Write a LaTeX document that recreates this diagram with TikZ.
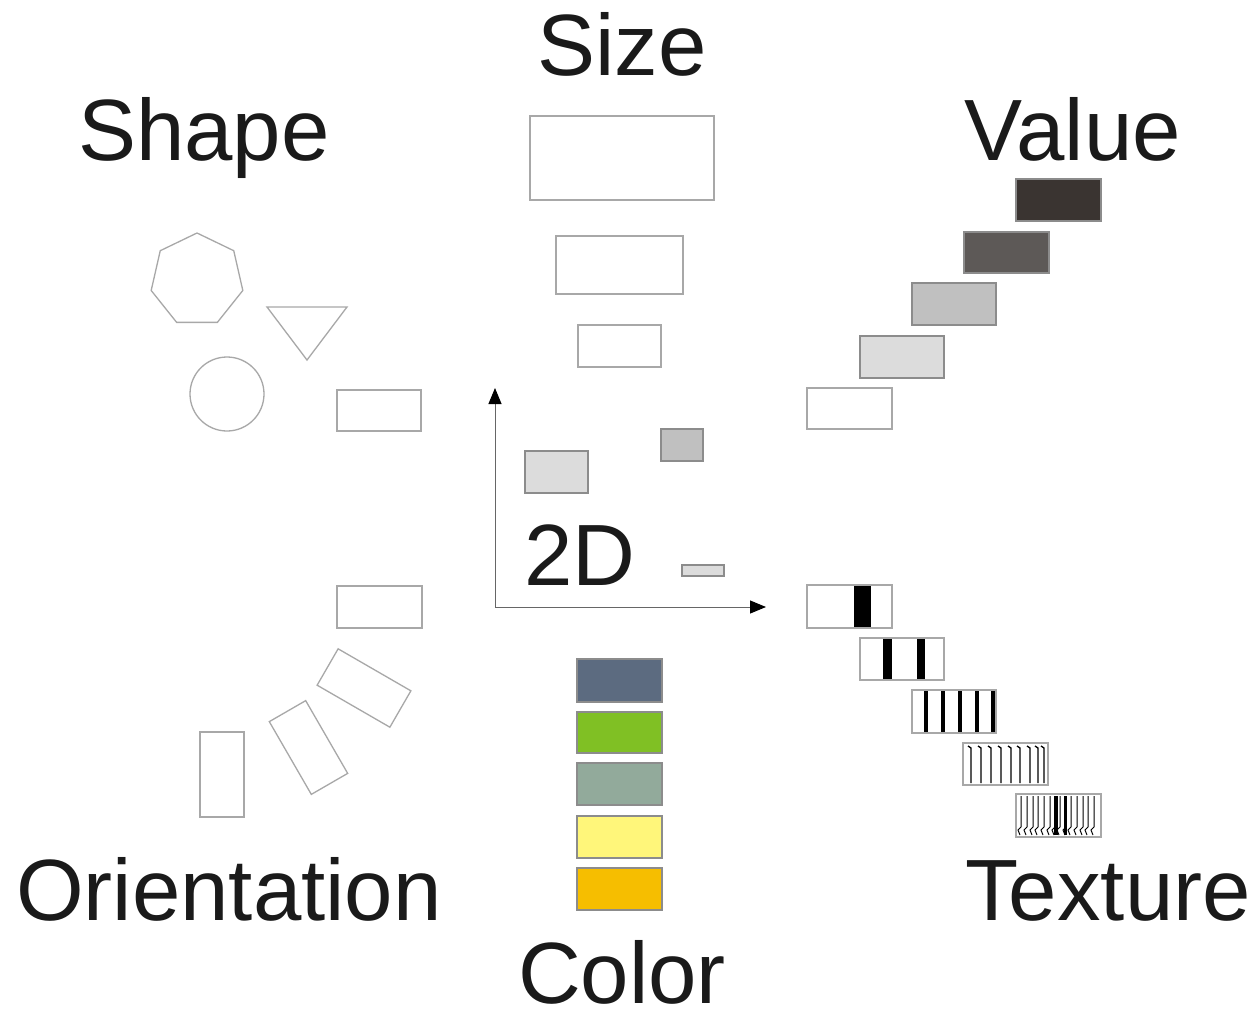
\documentclass[tikz,border=0pt]{standalone}
\usepackage{fontspec}
\setmainfont{Liberation Sans}
\usetikzlibrary{arrows.meta}
\definecolor{outl}{HTML}{A8A8A8}
\definecolor{outd}{HTML}{8C8C8C}
\definecolor{vA}{HTML}{3A3431}
\definecolor{vB}{HTML}{5D5957}
\definecolor{vC}{HTML}{C0C0C0}
\definecolor{vD}{HTML}{DCDCDC}
\definecolor{cA}{HTML}{5C6B80}
\definecolor{cB}{HTML}{80C024}
\definecolor{cC}{HTML}{92AA9B}
\definecolor{cD}{HTML}{FFF67A}
\definecolor{cE}{HTML}{F6BE00}
\definecolor{txt}{HTML}{1A1A1A}
\begin{document}
\begin{tikzpicture}[x=1pt,y=-1pt,
  outline/.style={draw=outl,line width=1.3pt},
  filled/.style={draw=outd,line width=1.3pt},
  bigtext/.style={font=\fontsize{87}{100}\selectfont,text=txt,anchor=base,inner sep=0pt,text depth=0pt},
  midtext/.style={bigtext,anchor=base west},
  axis/.style={draw=gray!80!black,line width=1pt,-{Triangle[length=16pt,width=13pt,black]}},
  bar/.style={fill=black,draw=none}]
\useasboundingbox (0,0) rectangle (1259,1010);
\fill[white] (0,0) rectangle (1259,1010);

% ---------- labels ----------
\node[bigtext] (lsize) at (622,75) {Size};
\node[bigtext] (lshape) at (204,160) {Shape};
\node[bigtext] (lvalue) at (1073,160) {Value};
\node[bigtext] (lorient) at (229,920) {Orientation};
\node[bigtext] (ltexture) at (1108,920) {Texture};
\node[bigtext] (lcolor) at (622,1003) {Color};
\node[midtext] (l2d) at (524,585) {2D};

% ---------- Size ----------
\draw[outline] (530,116) rectangle (714,200);
\draw[outline] (556,236) rectangle (683,294);
\draw[outline] (578,325) rectangle (661,367);

% ---------- Shape ----------
\draw[outline] (197,280) +(-90:47) -- +(-38.57:47) -- +(12.86:47) -- +(64.29:47)
   -- +(115.71:47) -- +(167.14:47) -- +(-141.43:47) -- cycle;
\draw[outline] (267,307) -- (347,307) -- (307,360) -- cycle;
\draw[outline] (227,394) circle (37);
\draw[outline] (337,390) rectangle (421,431);

% ---------- Value ----------
\draw[filled,fill=vA] (1016,179) rectangle (1101,221);
\draw[filled,fill=vB] (964,232) rectangle (1049,273);
\draw[filled,fill=vC] (912,283) rectangle (996,325);
\draw[filled,fill=vD] (860,336) rectangle (944,378);
\draw[outline] (807,388) rectangle (892,429);

% ---------- 2D ----------
\coordinate (origin) at (495,607);
\coordinate (ytip) at (495,388);
\coordinate (xtip) at (766,607);
\draw[axis] (origin) -- (ytip);
\draw[axis] (origin) -- (xtip);
\draw[filled,fill=vD] (525,451) rectangle (588,493);
\draw[filled,fill=vC] (661,429) rectangle (703,461);
\draw[filled,fill=vD] (682,565) rectangle (724,576);

% ---------- Orientation ----------
\draw[outline] (337,586) rectangle (422,628);
\draw[outline,rotate around={-30:(364,688)}] (322,667) rectangle (406,709);
\draw[outline,rotate around={-60:(308.5,747.5)}] (266.5,726.5) rectangle (350.5,768.5);
\draw[outline] (200,732) rectangle (244,817);

% ---------- Color ----------
\draw[filled,fill=cA] (577,659) rectangle (662,702);
\draw[filled,fill=cB] (577,712) rectangle (662,753);
\draw[filled,fill=cC] (577,763) rectangle (662,805);
\draw[filled,fill=cD] (577,816) rectangle (662,858);
\draw[filled,fill=cE] (577,868) rectangle (662,910);

% ---------- Texture ----------
% 1
\fill[bar] (854,585) rectangle (871,628);
\draw[outline] (807,585) rectangle (892,628);
% 2
\fill[bar] (883,638) rectangle (892,680);
\fill[bar] (917,638) rectangle (925,680);
\draw[outline] (860,638) rectangle (944,680);
% 3
\foreach \x in {924,941,958,975,991}
  \fill[bar] (\x,690) rectangle (\x+4,733);
\draw[outline] (912,690) rectangle (996,733);
% 4
\foreach \x in {971,981,991,1001,1011,1020,1030,1038,1044}
  \draw[black,line width=1.3pt] (\x-3,746) -- (\x,748) -- (\x,783);
\draw[outline] (963,743) rectangle (1048,785);
% 5
\foreach \x in {1021,1027,1033,1038,1044,1050,1055,1060,1066,1071,1077,1083,1088,1094}
  \draw[black,line width=1pt] (\x,796) -- (\x,827) -- (\x-3,830) -- (\x-1,835);
\fill[bar] (1054,796) rectangle (1058,835);
\fill[bar] (1064,796) rectangle (1067,835);
\draw[outline] (1016,794) rectangle (1101,837);
\end{tikzpicture}
\end{document}
